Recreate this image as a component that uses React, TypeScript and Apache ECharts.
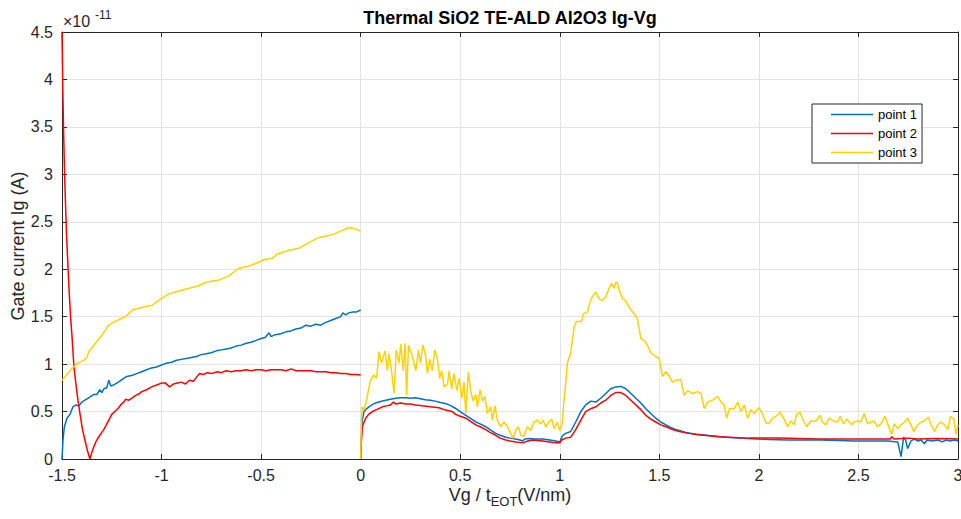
import React, { useEffect, useRef } from "react";
import * as echarts from "echarts";

// values are in units of 1e-11 A
const p1Neg: number[][] = [
  [-1.5, 0.0], [-1.495, 0.2], [-1.488, 0.34], [-1.475, 0.43], [-1.46, 0.47], [-1.445, 0.55], [-1.43, 0.57],
  [-1.415, 0.56], [-1.4, 0.6], [-1.385, 0.62], [-1.37, 0.64], [-1.355, 0.66], [-1.34, 0.68], [-1.325, 0.68],
  [-1.31, 0.73], [-1.3, 0.7], [-1.29, 0.74], [-1.275, 0.75], [-1.265, 0.83], [-1.255, 0.77], [-1.24, 0.78],
  [-1.225, 0.8], [-1.21, 0.82], [-1.19, 0.85], [-1.175, 0.87], [-1.15, 0.88], [-1.125, 0.9], [-1.1, 0.92],
  [-1.075, 0.94], [-1.05, 0.96], [-1.025, 0.97], [-1.0, 0.99], [-0.975, 1.01], [-0.95, 1.02], [-0.925, 1.04],
  [-0.9, 1.05], [-0.875, 1.06], [-0.85, 1.07], [-0.825, 1.08], [-0.8, 1.1], [-0.775, 1.11], [-0.75, 1.12],
  [-0.725, 1.14], [-0.7, 1.15], [-0.675, 1.16], [-0.65, 1.17], [-0.625, 1.19], [-0.6, 1.2], [-0.575, 1.22],
  [-0.55, 1.23], [-0.525, 1.25], [-0.5, 1.27], [-0.48, 1.28], [-0.46, 1.33], [-0.45, 1.29], [-0.43, 1.31],
  [-0.4, 1.32], [-0.375, 1.34], [-0.35, 1.35], [-0.325, 1.37], [-0.3, 1.38], [-0.275, 1.41], [-0.25, 1.4],
  [-0.225, 1.42], [-0.2, 1.41], [-0.175, 1.44], [-0.15, 1.46], [-0.125, 1.48], [-0.1, 1.5], [-0.09, 1.54],
  [-0.075, 1.52], [-0.06, 1.54], [-0.04, 1.55], [-0.02, 1.55], [0, 1.57],
];
const p2Neg: number[][] = [
  [-1.5, 4.5], [-1.496, 3.9], [-1.492, 3.45], [-1.487, 3.0], [-1.483, 2.73], [-1.477, 2.35], [-1.47, 2.03],
  [-1.464, 1.76], [-1.457, 1.5], [-1.45, 1.3], [-1.44, 0.97], [-1.43, 0.79], [-1.42, 0.62], [-1.41, 0.48],
  [-1.397, 0.31], [-1.385, 0.2], [-1.373, 0.095], [-1.36, 0.0], [-1.35, 0.07], [-1.34, 0.13], [-1.33, 0.18],
  [-1.315, 0.235], [-1.3, 0.28], [-1.29, 0.31], [-1.28, 0.35], [-1.265, 0.41], [-1.25, 0.47], [-1.235, 0.5],
  [-1.22, 0.53], [-1.205, 0.57], [-1.19, 0.6], [-1.18, 0.63], [-1.165, 0.62], [-1.15, 0.64], [-1.13, 0.67],
  [-1.11, 0.69], [-1.1, 0.71], [-1.075, 0.73], [-1.05, 0.76], [-1.025, 0.78], [-1.0, 0.8], [-0.98, 0.8],
  [-0.96, 0.76], [-0.94, 0.79], [-0.92, 0.8], [-0.9, 0.81], [-0.88, 0.79], [-0.86, 0.83], [-0.84, 0.82],
  [-0.825, 0.86], [-0.81, 0.9], [-0.79, 0.89], [-0.77, 0.91], [-0.75, 0.9], [-0.72, 0.92], [-0.7, 0.91],
  [-0.675, 0.93], [-0.65, 0.92], [-0.625, 0.93], [-0.6, 0.93], [-0.575, 0.94], [-0.55, 0.93], [-0.525, 0.94],
  [-0.5, 0.94], [-0.475, 0.93], [-0.45, 0.94], [-0.425, 0.94], [-0.4, 0.94], [-0.375, 0.93], [-0.35, 0.95],
  [-0.325, 0.93], [-0.3, 0.93], [-0.275, 0.93], [-0.25, 0.93], [-0.225, 0.92], [-0.2, 0.92], [-0.175, 0.92],
  [-0.15, 0.91], [-0.125, 0.91], [-0.1, 0.9], [-0.075, 0.9], [-0.05, 0.89], [-0.025, 0.89], [0, 0.885],
];
const p3Neg: number[][] = [
  [-1.5, 0.83], [-1.475, 0.89], [-1.45, 0.955], [-1.42, 1.01], [-1.39, 1.04], [-1.375, 1.07], [-1.365, 1.13],
  [-1.332, 1.22], [-1.298, 1.31], [-1.265, 1.41], [-1.223, 1.46], [-1.181, 1.5], [-1.147, 1.57], [-1.097, 1.6],
  [-1.047, 1.62], [-1.013, 1.675], [-0.963, 1.74], [-0.912, 1.77], [-0.862, 1.8], [-0.82, 1.82], [-0.779, 1.86],
  [-0.745, 1.875], [-0.712, 1.885], [-0.662, 1.93], [-0.611, 2.01], [-0.561, 2.035], [-0.528, 2.06],
  [-0.486, 2.1], [-0.444, 2.115], [-0.419, 2.16], [-0.36, 2.2], [-0.31, 2.22], [-0.26, 2.28], [-0.209, 2.335],
  [-0.17, 2.35], [-0.134, 2.37], [-0.092, 2.41], [-0.059, 2.44], [-0.034, 2.43], [-0.015, 2.415], [0, 2.4],
];
const p1Pos: number[][] = [
  [0, 0], [0.004, 0.25], [0.008, 0.41], [0.017, 0.5], [0.03, 0.53], [0.042, 0.55], [0.06, 0.575], [0.075, 0.59],
  [0.1, 0.605], [0.126, 0.62], [0.15, 0.63], [0.176, 0.64], [0.2, 0.645], [0.226, 0.645], [0.25, 0.64],
  [0.275, 0.645], [0.3, 0.635], [0.325, 0.625], [0.35, 0.62], [0.375, 0.61], [0.4, 0.595], [0.425, 0.585],
  [0.45, 0.565], [0.475, 0.535], [0.5, 0.5], [0.528, 0.46], [0.55, 0.43], [0.578, 0.39], [0.6, 0.37],
  [0.628, 0.34], [0.65, 0.31], [0.678, 0.27], [0.7, 0.25], [0.729, 0.23], [0.75, 0.22], [0.779, 0.21],
  [0.8, 0.2], [0.812, 0.19], [0.825, 0.21], [0.846, 0.215], [0.875, 0.21], [0.913, 0.21], [0.95, 0.2],
  [0.98, 0.19], [1.0, 0.18], [1.008, 0.22], [1.015, 0.25], [1.03, 0.27], [1.055, 0.29], [1.08, 0.39],
  [1.106, 0.5], [1.13, 0.57], [1.156, 0.61], [1.181, 0.6], [1.206, 0.64], [1.231, 0.69], [1.256, 0.74],
  [1.281, 0.76], [1.307, 0.765], [1.332, 0.74], [1.357, 0.69], [1.382, 0.64], [1.407, 0.59], [1.432, 0.53],
  [1.457, 0.48], [1.482, 0.43], [1.507, 0.39], [1.533, 0.36], [1.549, 0.34], [1.583, 0.31], [1.633, 0.28],
  [1.683, 0.26], [1.734, 0.25], [1.784, 0.24], [1.835, 0.23], [1.902, 0.22], [1.985, 0.21], [2.05, 0.205],
  [2.144, 0.2], [2.23, 0.2], [2.31, 0.2], [2.4, 0.195], [2.479, 0.19], [2.56, 0.19], [2.647, 0.19],
  [2.697, 0.18], [2.714, 0.025], [2.727, 0.23], [2.737, 0.2], [2.747, 0.11], [2.764, 0.19], [2.78, 0.21],
  [2.8, 0.19], [2.815, 0.2], [2.831, 0.16], [2.845, 0.2], [2.87, 0.19], [2.9, 0.2], [2.92, 0.18],
  [2.94, 0.2], [2.96, 0.19], [2.982, 0.2], [3.0, 0.19],
];
const p2Pos: number[][] = [
  [0, 0], [0.004, 0.2], [0.008, 0.34], [0.025, 0.43], [0.04, 0.47], [0.059, 0.5], [0.08, 0.52], [0.109, 0.55],
  [0.13, 0.56], [0.15, 0.57], [0.165, 0.6], [0.176, 0.58], [0.2, 0.59], [0.226, 0.58], [0.25, 0.58],
  [0.275, 0.57], [0.31, 0.56], [0.35, 0.55], [0.393, 0.54], [0.42, 0.52], [0.46, 0.5], [0.477, 0.47],
  [0.5, 0.45], [0.528, 0.43], [0.55, 0.4], [0.578, 0.36], [0.6, 0.34], [0.628, 0.31], [0.65, 0.28],
  [0.678, 0.25], [0.7, 0.22], [0.729, 0.2], [0.75, 0.19], [0.779, 0.18], [0.812, 0.17], [0.84, 0.19],
  [0.863, 0.2], [0.913, 0.19], [0.95, 0.18], [0.98, 0.17], [1.0, 0.17], [1.01, 0.2], [1.03, 0.22],
  [1.055, 0.23], [1.08, 0.31], [1.106, 0.41], [1.13, 0.5], [1.156, 0.53], [1.181, 0.55], [1.206, 0.59],
  [1.231, 0.62], [1.256, 0.67], [1.281, 0.7], [1.307, 0.7], [1.332, 0.67], [1.357, 0.62], [1.382, 0.57],
  [1.407, 0.52], [1.432, 0.46], [1.457, 0.42], [1.482, 0.39], [1.507, 0.36], [1.533, 0.34], [1.566, 0.31],
  [1.6, 0.29], [1.65, 0.27], [1.7, 0.255], [1.75, 0.245], [1.8, 0.235], [1.85, 0.23], [1.9, 0.225],
  [1.95, 0.22], [2.0, 0.22], [2.1, 0.22], [2.2, 0.215], [2.3, 0.21], [2.4, 0.21], [2.5, 0.21], [2.6, 0.21],
  [2.66, 0.21], [2.667, 0.235], [2.68, 0.21], [2.75, 0.22], [2.8, 0.21], [2.9, 0.215], [3.0, 0.21],
];
const p3Pos: number[][] = [
  [0, 0], [0.004, 0.4], [0.008, 0.55], [0.017, 0.52], [0.03, 0.62], [0.042, 0.76], [0.05, 0.83],
  [0.067, 0.885], [0.08, 0.85], [0.092, 1.13], [0.105, 1.01], [0.122, 1.14], [0.134, 0.93], [0.142, 1.11],
  [0.155, 0.93], [0.168, 0.69], [0.179, 1.15], [0.193, 1.01], [0.201, 1.21], [0.214, 0.93], [0.223, 1.22],
  [0.231, 0.67], [0.24, 1.2], [0.26, 1.08], [0.277, 0.93], [0.29, 1.15], [0.3, 1.01], [0.313, 1.2],
  [0.327, 1.08], [0.335, 0.9], [0.347, 1.05], [0.36, 0.93], [0.372, 1.15], [0.385, 1.06], [0.397, 0.85],
  [0.407, 0.93], [0.419, 0.76], [0.436, 0.79], [0.444, 0.93], [0.457, 0.74], [0.469, 0.9], [0.483, 0.72],
  [0.494, 0.85], [0.508, 0.64], [0.519, 0.81], [0.528, 0.48], [0.541, 0.92], [0.553, 0.71], [0.565, 0.61],
  [0.578, 0.68], [0.586, 0.55], [0.6, 0.73], [0.611, 0.61], [0.624, 0.66], [0.636, 0.48], [0.653, 0.55],
  [0.661, 0.41], [0.675, 0.56], [0.686, 0.41], [0.703, 0.34], [0.72, 0.39], [0.737, 0.34], [0.753, 0.27],
  [0.765, 0.22], [0.779, 0.3], [0.792, 0.34], [0.804, 0.25], [0.82, 0.24], [0.837, 0.34], [0.854, 0.3],
  [0.87, 0.39], [0.887, 0.41], [0.904, 0.37], [0.916, 0.41], [0.929, 0.34], [0.946, 0.39], [0.96, 0.42],
  [0.971, 0.32], [0.988, 0.39], [1.0, 0.3], [1.012, 0.37], [1.02, 0.59], [1.03, 0.8], [1.038, 1.01],
  [1.055, 1.12], [1.072, 1.39], [1.084, 1.45], [1.109, 1.45], [1.119, 1.53], [1.139, 1.55], [1.156, 1.68],
  [1.164, 1.71], [1.181, 1.76], [1.197, 1.69], [1.214, 1.67], [1.231, 1.71], [1.248, 1.8], [1.261, 1.85],
  [1.273, 1.8], [1.281, 1.86], [1.289, 1.86], [1.298, 1.78], [1.315, 1.69], [1.331, 1.67], [1.348, 1.6],
  [1.373, 1.53], [1.39, 1.48], [1.407, 1.27], [1.424, 1.25], [1.44, 1.2], [1.457, 1.12], [1.482, 1.08],
  [1.499, 1.06], [1.516, 0.87], [1.533, 0.92], [1.549, 0.88], [1.566, 0.81], [1.583, 0.83], [1.608, 0.84],
  [1.625, 0.67], [1.642, 0.72], [1.667, 0.69], [1.692, 0.71], [1.709, 0.69], [1.726, 0.53], [1.742, 0.6],
  [1.768, 0.62], [1.793, 0.66], [1.81, 0.6], [1.826, 0.57], [1.838, 0.43], [1.852, 0.53], [1.877, 0.53],
  [1.894, 0.6], [1.91, 0.5], [1.927, 0.57], [1.944, 0.43], [1.96, 0.52], [1.977, 0.48], [1.999, 0.54],
  [2.018, 0.48], [2.035, 0.38], [2.052, 0.38], [2.069, 0.43], [2.085, 0.45], [2.107, 0.49], [2.127, 0.42],
  [2.144, 0.34], [2.161, 0.4], [2.177, 0.36], [2.19, 0.47], [2.207, 0.49], [2.224, 0.4], [2.241, 0.34],
  [2.261, 0.4], [2.286, 0.4], [2.308, 0.46], [2.319, 0.39], [2.336, 0.36], [2.353, 0.43], [2.375, 0.4],
  [2.395, 0.39], [2.408, 0.45], [2.425, 0.37], [2.442, 0.42], [2.465, 0.36], [2.479, 0.39], [2.499, 0.4],
  [2.512, 0.39], [2.529, 0.48], [2.546, 0.37], [2.563, 0.39], [2.579, 0.4], [2.596, 0.34], [2.613, 0.37],
  [2.633, 0.45], [2.647, 0.37], [2.667, 0.26], [2.68, 0.37], [2.697, 0.32], [2.714, 0.36], [2.731, 0.39],
  [2.747, 0.43], [2.764, 0.36], [2.777, 0.29], [2.798, 0.36], [2.815, 0.39], [2.831, 0.4], [2.851, 0.44],
  [2.865, 0.36], [2.882, 0.29], [2.898, 0.36], [2.915, 0.39], [2.932, 0.36], [2.949, 0.31], [2.962, 0.45],
  [2.979, 0.42], [2.99, 0.26], [3.0, 0.36],
];

const seriesNames = ["point 1", "point 2", "point 3"];
const seriesColors = ["#0072BD", "#FF0000", "#FFD200"];
const xTicks = { min: -1.5, max: 3, interval: 0.5 };
const yTicks = { min: 0, max: 4.5, interval: 0.5 };

const FONT = '"Liberation Sans", Arial, Helvetica, sans-serif';
const AX = "#262626";

export default function App() {
  const ref = useRef<HTMLDivElement>(null);
  useEffect(() => {
    if (!ref.current) return;
    const chart = echarts.init(ref.current, undefined, { renderer: "svg" });
    const segs = [
      [p1Neg, p1Pos],
      [p2Neg, p2Pos],
      [p3Neg, p3Pos],
    ];
    const series: any[] = [];
    segs.forEach((pair, i) => {
      pair.forEach((d) => {
        series.push({
          type: "line",
          name: seriesNames[i],
          data: d,
          symbol: "none",
          showSymbol: false,
          color: seriesColors[i],
          lineStyle: { width: 1.5, color: seriesColors[i] },
          xAxisIndex: 0,
          yAxisIndex: 0,
        });
      });
    });
    const baseX = {
      type: "value",
      min: xTicks.min,
      max: xTicks.max,
      interval: xTicks.interval,
    };
    const baseY = {
      type: "value",
      min: yTicks.min,
      max: yTicks.max,
      interval: yTicks.interval,
    };
    chart.setOption({
      animation: false,
      backgroundColor: "#ffffff",
      textStyle: { fontFamily: FONT },
      grid: { left: 62, right: 3, top: 32, bottom: 60, containLabel: false, outerBoundsMode: "none" },
      xAxis: [
        {
          ...baseX,
          position: "bottom",
          axisLine: { show: true, onZero: false, lineStyle: { color: AX, width: 1 } },
          axisTick: { show: true, inside: true, length: 5, lineStyle: { color: AX } },
          axisLabel: { fontSize: 16, color: AX, margin: 8, fontFamily: FONT },
          splitLine: { show: true, lineStyle: { color: "#e3e3e3", width: 1 } },
        },
        {
          ...baseX,
          position: "top",
          axisLine: { show: true, onZero: false, lineStyle: { color: AX, width: 1 } },
          axisTick: { show: true, inside: true, length: 5, lineStyle: { color: AX } },
          axisLabel: { show: false },
          splitLine: { show: false },
        },
      ],
      yAxis: [
        {
          ...baseY,
          position: "left",
          axisLine: { show: true, onZero: false, lineStyle: { color: AX, width: 1 } },
          axisTick: { show: true, inside: true, length: 5, lineStyle: { color: AX } },
          axisLabel: { fontSize: 16, color: AX, margin: 9, fontFamily: FONT },
          splitLine: { show: true, lineStyle: { color: "#e3e3e3", width: 1 } },
        },
        {
          ...baseY,
          position: "right",
          axisLine: { show: true, onZero: false, lineStyle: { color: AX, width: 1 } },
          axisTick: { show: true, inside: true, length: 5, lineStyle: { color: AX } },
          axisLabel: { show: false },
          splitLine: { show: false },
        },
      ],
      legend: {
        data: seriesNames,
        orient: "vertical",
        left: 812,
        top: 104,
        padding: [4, 5, 4, 19],
        itemWidth: 42,
        itemHeight: 14,
        itemGap: 6,
        icon: "path://M0,0L42,0L42,1.5L0,1.5Z",
        borderColor: AX,
        borderWidth: 1,
        backgroundColor: "#ffffff",
        textStyle: { fontSize: 13, color: "#000", fontFamily: FONT },
      },
      graphic: [
        {
          type: "text",
          x: 510,
          y: 18,
          style: {
            text: "Thermal SiO2 TE-ALD Al2O3 Ig-Vg",
            font: `bold 18px ${FONT}`,
            fill: "#000",
            align: "center",
            verticalAlign: "middle",
          },
        },
        {
          type: "text",
          x: 63,
          y: 21,
          style: { text: "×10", font: `16px ${FONT}`, fill: AX, align: "left", verticalAlign: "middle" },
        },
        {
          type: "text",
          x: 95,
          y: 15,
          style: { text: "-11", font: `12px ${FONT}`, fill: AX, align: "left", verticalAlign: "middle" },
        },
        {
          type: "text",
          x: 18,
          y: 246,
          rotation: Math.PI / 2,
          style: {
            text: "Gate current Ig (A)",
            font: `18px ${FONT}`,
            fill: AX,
            align: "center",
            verticalAlign: "middle",
          },
        },
        {
          type: "text",
          x: 510,
          y: 486,
          style: {
            text: "{a|Vg / t}{b|EOT}{a|(V/nm)}",
            align: "center",
            verticalAlign: "top",
            fill: AX,
            rich: {
              a: { fontSize: 18, fontFamily: FONT, lineHeight: 22, verticalAlign: "top", fill: AX },
              b: {
                fontSize: 13,
                fontFamily: FONT,
                lineHeight: 13,
                verticalAlign: "bottom",
                padding: [13, 0, 0, 0],
                fill: AX,
              },
            },
          },
        },
      ],
      series,
    });
    return () => chart.dispose();
  }, []);
  return (
    <div
      ref={ref}
      style={{ position: "fixed", left: 0, top: 0, width: 961, height: 519, background: "#fff" }}
    />
  );
}
